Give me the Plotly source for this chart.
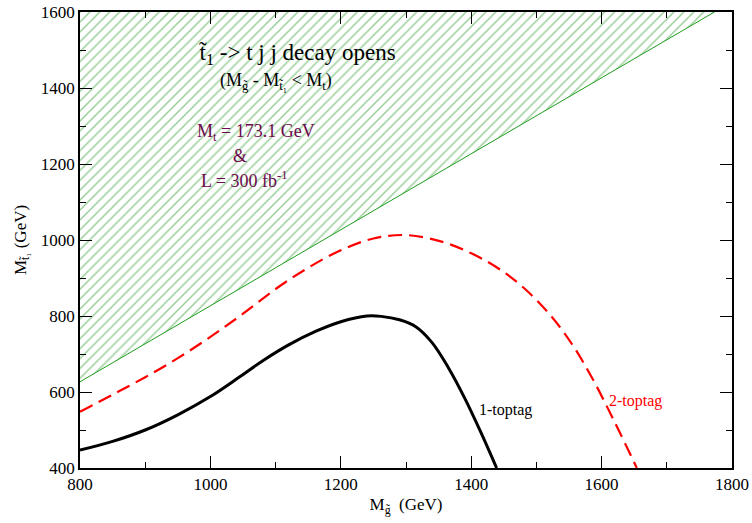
import plotly.graph_objects as go

# data
top_mass = 173.1
region_x = [800, 1800]
one_tag_x = [800, 850, 900, 950, 1000, 1045, 1081, 1120, 1162, 1200, 1240, 1262, 1290, 1315, 1340, 1365, 1390, 1414, 1439]
one_tag_y = [447, 470, 500, 540, 588, 640, 683, 724, 760, 785, 800, 799, 790, 772, 730, 664, 584, 497, 400]
two_tag_x = [800, 850, 900, 950, 1000, 1050, 1100, 1150, 1200, 1250, 1300, 1356, 1400, 1440, 1480, 1520, 1555, 1587, 1620, 1654]
two_tag_y = [548, 593, 639, 689, 745, 806, 871, 927, 973, 1004, 1013, 995, 965, 927, 875, 805, 725, 632, 521, 400]

ymax = 1600
x_end = ymax + top_mass
bound_x = [region_x[0], x_end]
bound_y = [region_x[0] - top_mass, ymax]

SERIF = "Liberation Serif, Times New Roman, serif"
MAROON = "#6b0a4c"

fig = go.Figure()
fig.add_trace(go.Scatter(
    x=bound_x + [region_x[0]], y=bound_y + [ymax], mode="lines",
    fill="toself", line=dict(width=0, color="rgba(0,0,0,0)"),
    fillcolor="white",
    fillpattern=dict(shape="/", fgcolor="#36a036", bgcolor="white", size=7, solidity=0.22),
    hoverinfo="skip", showlegend=False))
fig.add_trace(go.Scatter(x=bound_x, y=bound_y, mode="lines",
                         line=dict(color="#1c9c1c", width=1), showlegend=False))
fig.add_trace(go.Scatter(x=one_tag_x, y=one_tag_y, mode="lines",
                         line=dict(color="black", width=3, shape="spline", smoothing=1.0), showlegend=False))
fig.add_trace(go.Scatter(x=two_tag_x, y=two_tag_y, mode="lines",
                         line=dict(color="#ff0000", width=2.2, shape="spline", smoothing=1.0, dash="14px,7px"),
                         showlegend=False))

ann = [
    dict(x=1134, y=1489, text="t\u0303<sub>1</sub> -> t j j decay opens", size=23, color="black"),
    dict(x=1100, y=1418, text="(M<sub>g\u0303</sub> - M<sub>t\u0303\u2081</sub> < M<sub>t</sub>)", size=18, color="black"),
    dict(x=1070, y=1284, text="M<sub>t</sub> = 173.1 GeV", size=18, color=MAROON),
    dict(x=1046, y=1220, text="&", size=18, color=MAROON),
    dict(x=1052, y=1160, text="L = 300 fb<sup>-1</sup>", size=18, color=MAROON),
]
for a in ann:
    fig.add_annotation(x=a["x"], y=a["y"], text=a["text"], showarrow=False,
                       font=dict(family=SERIF, size=a["size"], color=a["color"]))
fig.add_annotation(x=1409, y=553, text="1-toptag", showarrow=False, xanchor="left",
                   font=dict(family=SERIF, size=16, color="black"))
fig.add_annotation(x=1609, y=577, text="2-toptag", showarrow=False, xanchor="left",
                   font=dict(family=SERIF, size=16, color="#ff0000"))

axis_common = dict(
    showgrid=False, zeroline=False, showline=True, linecolor="black", linewidth=1.5,
    mirror="allticks", ticks="inside", ticklen=12, tickwidth=1.2, tickcolor="black",
    tickfont=dict(family=SERIF, size=17, color="black"), automargin=False,
    ticklabeloverflow="allow",
    minor=dict(ticks="inside", ticklen=6, tickwidth=1, tickcolor="black", dtick=100),
)
fig.update_xaxes(range=[800, 1800], dtick=200, tick0=800,
                 title=dict(text="M<sub>g\u0303</sub>  (GeV)", font=dict(family=SERIF, size=17, color="black"), standoff=5),
                 **axis_common)
fig.update_yaxes(range=[400, 1600], dtick=200, tick0=400,
                 title=dict(text="M<sub>t\u0303\u2081</sub> (GeV)", font=dict(family=SERIF, size=17, color="black"), standoff=10),
                 **axis_common)
fig.update_layout(width=752, height=523, margin=dict(l=80, r=20, t=12, b=55, autoexpand=False),
                  plot_bgcolor="white", paper_bgcolor="white", hovermode=False)
fig.write_html("out.html", config={"displayModeBar": False},
               post_script="document.body.style.margin='0';")
